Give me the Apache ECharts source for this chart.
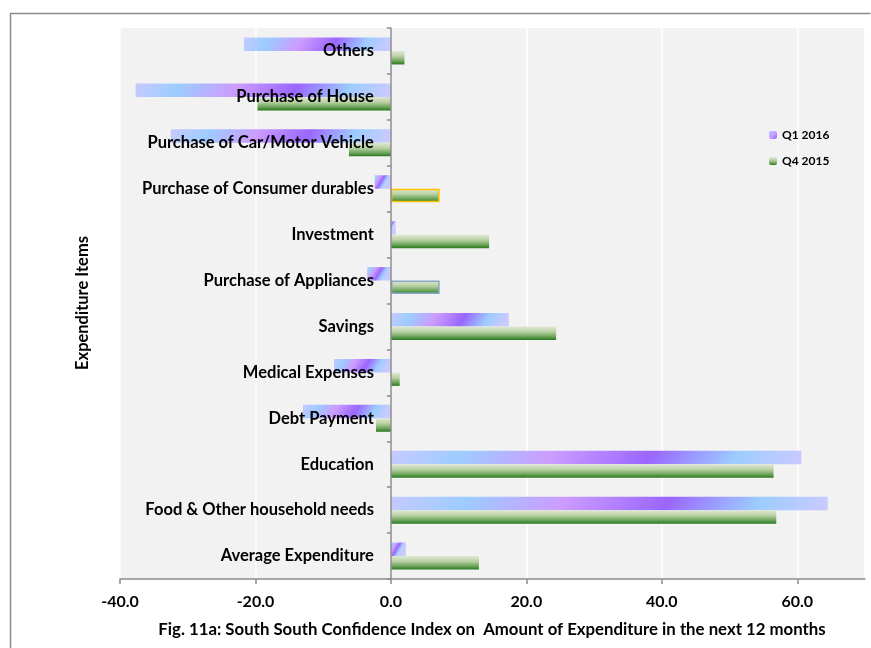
<!DOCTYPE html>
<html>
<head>
<meta charset="utf-8">
<script src="https://cdn.jsdelivr.net/npm/echarts@6/dist/echarts.min.js"></script>
<style>
  html, body { margin: 0; padding: 0; background: #fff; }
  #chart { width: 871px; height: 648px; }
</style>
</head>
<body>
<div id="chart"></div>
<script>
// Expenditure items, listed from the bottom of the axis upward
const categories = [
  'Average Expenditure',
  'Food & Other household needs',
  'Education',
  'Debt Payment',
  'Medical Expenses',
  'Savings',
  'Purchase of Appliances',
  'Investment',
  'Purchase of Consumer durables',
  'Purchase of Car/Motor Vehicle',
  'Purchase of House',
  'Others'
];
const q1_2016 = [2.2, 64.5, 60.6, -13.0, -8.4, 17.4, -3.5, 0.7, -2.4, -32.5, -37.7, -21.7];
const q4_2015 = [13.0, 56.9, 56.5, -2.2, 1.3, 24.4, 7.2, 14.5, 7.2, -6.2, -19.7, 2.0];
const xTicks = [-40, -20, 0, 20, 40, 60];
const seriesNames = ['Q1 2016', 'Q4 2015'];

const FONT = 'Lato, "Open Sans", sans-serif';
const X_MIN = -40, X_MAX = 70;
const GRID_LEFT = 120, GRID_RIGHT = 6;
const PLOT_W = 871 - GRID_LEFT - GRID_RIGHT;
const BAR_H = 13.5;

// The category axis sits on the zero line, labels included
const zeroOffset = -(0 - X_MIN) / (X_MAX - X_MIN) * PLOT_W;

// Diagonal multi-stop fill; the slope is kept roughly constant in pixels
function q1Fill(v) {
  const w = Math.max(Math.abs(v) * PLOT_W / (X_MAX - X_MIN), 1);
  const s = 8 / BAR_H;
  const c = 1 / (1 + s * s);
  return new echarts.graphic.LinearGradient(0, 0, c, c * w * s / BAR_H, [
    { offset: 0, color: '#c6caff' },
    { offset: 0.18, color: '#9dccff' },
    { offset: 0.40, color: '#cc9cff' },
    { offset: 0.64, color: '#9a66ff' },
    { offset: 0.85, color: '#9dccff' },
    { offset: 1, color: '#c6caff' }
  ]);
}
const q4Fill = new echarts.graphic.LinearGradient(0, 0, 0, 1, [
  { offset: 0, color: '#e0e9d5' },
  { offset: 0.4, color: '#b8d0a2' },
  { offset: 0.75, color: '#6ca45a' },
  { offset: 1, color: '#27781f' }
]);
const q1Legend = new echarts.graphic.LinearGradient(0, 0, 1, 1, [
  { offset: 0, color: '#9dccff' },
  { offset: 0.5, color: '#cc9cff' },
  { offset: 1, color: '#9a66ff' }
]);

// A couple of bars carry their own outline
const q4Outline = {
  'Purchase of Consumer durables': { borderColor: '#ffc000', borderWidth: 1.5 },
  'Purchase of Appliances': { borderColor: '#86a9c9', borderWidth: 1.5 }
};

const chart = echarts.init(document.getElementById('chart'), null, { renderer: 'canvas' });

chart.setOption({
  animation: false,
  backgroundColor: '#fff',
  grid: {
    left: GRID_LEFT, right: GRID_RIGHT, top: 28, bottom: 69,
    containLabel: false,
    outerBoundsMode: 'none',
    show: true, backgroundColor: '#f2f2f2', borderWidth: 0
  },
  legend: {
    orient: 'vertical',
    left: 764, top: 124,
    itemWidth: 8, itemHeight: 8, itemGap: 14,
    textStyle: { fontFamily: FONT, fontWeight: 'bold', fontSize: 12, color: '#000' },
    data: seriesNames
  },
  xAxis: {
    type: 'value',
    min: X_MIN, max: X_MAX, interval: 20,
    axisLine: { show: true, lineStyle: { color: '#8c8c8c', width: 1.5 } },
    axisTick: { show: true, length: 5, lineStyle: { color: '#8c8c8c', width: 1.5 } },
    splitLine: { show: true, lineStyle: { color: '#ffffff', width: 1.5 } },
    axisLabel: {
      showMaxLabel: false,
      margin: 15,
      fontFamily: FONT, fontWeight: 'bold', fontSize: 16, color: '#000',
      formatter: v => xTicks.includes(v) ? v.toFixed(1) : ''
    }
  },
  yAxis: {
    type: 'category',
    data: categories,
    z: 10,
    offset: zeroOffset,
    axisLine: { show: true, onZero: false, lineStyle: { color: '#8c8c8c', width: 1.5 } },
    axisTick: { show: true, length: 4, lineStyle: { color: '#8c8c8c', width: 1.5 } },
    splitLine: { show: false },
    axisLabel: {
      margin: 17,
      fontFamily: FONT, fontWeight: 'bold', fontSize: 16.5, color: '#000'
    }
  },
  series: [
    {
      name: seriesNames[0],
      type: 'bar',
      barWidth: BAR_H,
      barGap: '0%',
      itemStyle: { color: q1Legend },
      data: q1_2016.map(v => ({ value: v, itemStyle: { color: q1Fill(v) } }))
    },
    {
      name: seriesNames[1],
      type: 'bar',
      barWidth: BAR_H,
      barGap: '0%',
      itemStyle: { color: q4Fill },
      data: q4_2015.map((v, i) => ({
        value: v,
        itemStyle: Object.assign({ color: q4Fill }, q4Outline[categories[i]] || {})
      }))
    }
  ],
  graphic: [
    {
      type: 'polyline',
      silent: true,
      shape: { points: [[870.5, 13.5], [10.5, 13.5], [10.5, 648]] },
      style: { stroke: '#8c8c8c', lineWidth: 1.5, fill: null }
    },
    {
      type: 'text',
      x: 83, y: 303,
      rotation: Math.PI / 2,
      style: {
        text: 'Expenditure Items',
        font: 'bold 16.5px ' + FONT,
        fill: '#000',
        align: 'center', verticalAlign: 'middle'
      }
    },
    {
      type: 'text',
      x: 492, y: 630,
      style: {
        text: 'Fig. 11a: South South Confidence Index on  Amount of Expenditure in the next 12 months',
        font: 'bold 16.8px ' + FONT,
        fill: '#000',
        align: 'center', verticalAlign: 'middle'
      }
    }
  ]
});
</script>
</body>
</html>
